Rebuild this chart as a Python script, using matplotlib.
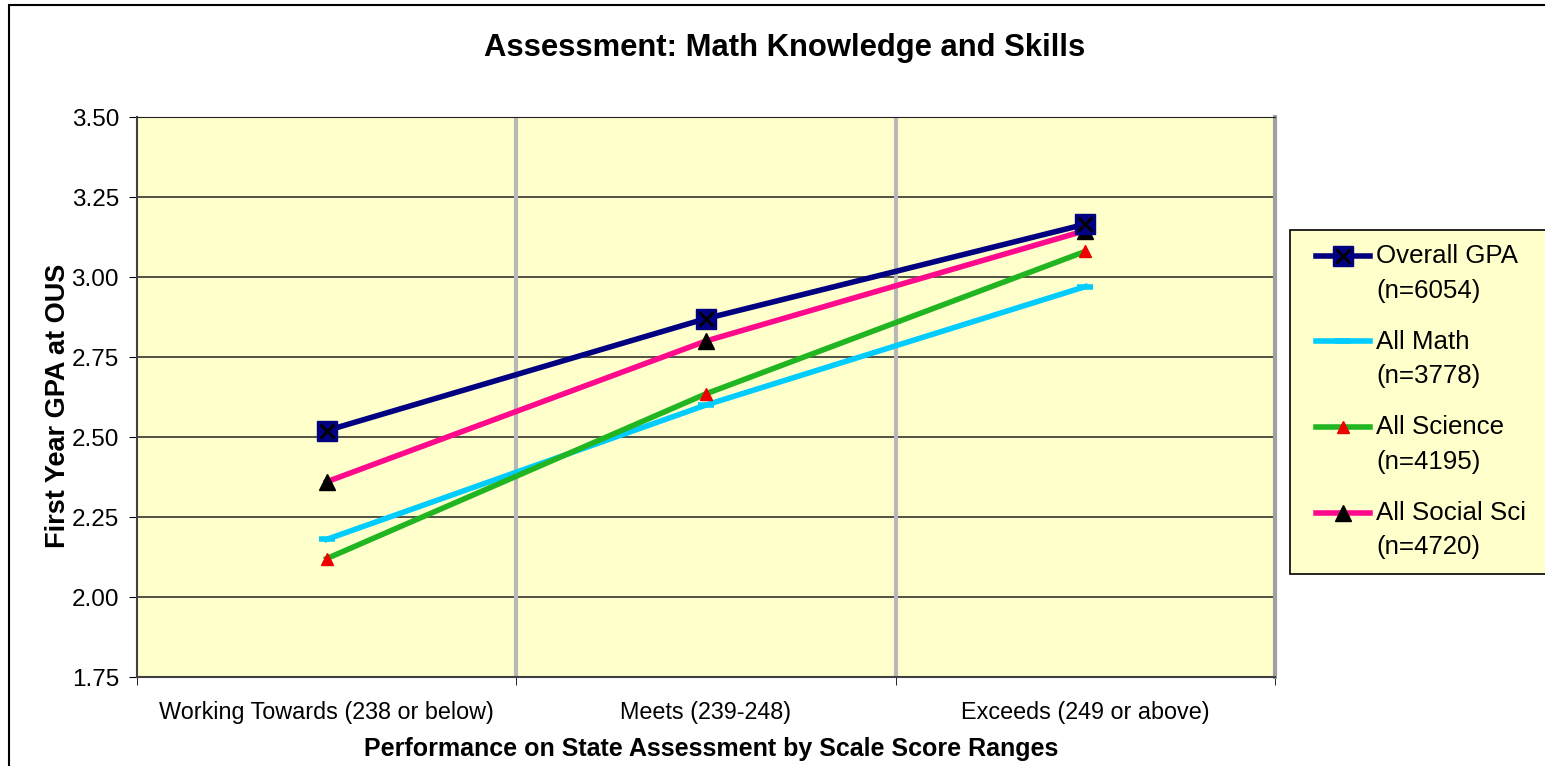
import matplotlib.pyplot as plt
from matplotlib.patches import Rectangle
from matplotlib.lines import Line2D
from matplotlib.legend_handler import HandlerLine2D, HandlerTuple
import numpy as np

categories = ['Working Towards (238 or below)', 'Meets (239-248)', 'Exceeds (249 or above)']
overall_gpa = [2.52, 2.87, 3.165]
all_math = [2.18, 2.60, 2.97]
all_science = [2.12, 2.635, 3.08]
all_social = [2.36, 2.80, 3.145]
series_labels = ['Overall GPA\n(n=6054)', 'All Math\n(n=3778)', 'All Science\n(n=4195)', 'All Social Sci\n(n=4720)']

plt.rcParams['font.family'] = ['Liberation Sans', 'DejaVu Sans']


class TopLineHandler(HandlerLine2D):
    # legend sample sits next to the first line of a two-line label, with some room on its left
    def create_artists(self, legend, orig_handle, xdescent, ydescent, width, height, fontsize, trans):
        left = 8.5
        up = 26.0
        return super().create_artists(legend, orig_handle, xdescent - left, ydescent - up,
                                      width - left, height, fontsize, trans)


W, H = 1545, 766
fig = plt.figure(figsize=(W / 100, H / 100), dpi=100)
ax = fig.add_axes([137 / W, 1 - 677 / H, 1138 / W, 560 / H])
ax.set_facecolor('#FFFFCC')

# outer chart border (right and bottom edges fall outside the picture)
fig.patches.append(Rectangle((9 / W, -0.1), 1.2, 1.1 - 5 / H, transform=fig.transFigure,
                             fill=False, edgecolor='black', linewidth=1.5))

x = np.arange(len(categories))
l_gpa, = ax.plot(x, overall_gpa, color='#000080', linewidth=4, marker='s', markersize=14,
                 markerfacecolor='#000080', markeredgecolor='#000080', zorder=5)
l_gpa_x, = ax.plot(x, overall_gpa, linestyle='none', marker='x', markersize=10, markeredgewidth=2,
                   color='black', zorder=6)
l_math, = ax.plot(x, all_math, color='#00CCFF', linewidth=4, marker='_', markersize=12,
                  markeredgewidth=4, zorder=3)
l_sci, = ax.plot(x, all_science, color='#22B522', linewidth=4, marker='^', markersize=9,
                 markerfacecolor='#EE0000', markeredgecolor='#EE0000', zorder=4)
l_soc, = ax.plot(x, all_social, color='#FF0A8C', linewidth=4, marker='^', markersize=11,
                 markerfacecolor='black', markeredgecolor='black', zorder=4)

ax.set_xlim(-0.5, 2.5)
ax.set_ylim(1.75, 3.5)
yt = np.arange(1.75, 3.51, 0.25)
ax.set_yticks(yt)
ax.set_yticklabels([f'{v:.2f}' for v in yt])
ax.set_xticks(x)
ax.set_xticklabels(categories)
ax.set_xticks([-0.5, 0.5, 1.5, 2.5], minor=True)
ax.tick_params(axis='x', which='major', length=0, labelsize=16.8, pad=17)
ax.tick_params(axis='x', which='minor', length=6, direction='out')
ax.tick_params(axis='y', length=6, direction='out', labelsize=17.5, pad=7)

for v in np.arange(2.0, 3.51, 0.25):
    ax.axhline(v, color='#202020', linewidth=1.1, zorder=1)
for v in [0.5, 1.5]:
    ax.axvline(v, color='#B8B8B8', linewidth=3, zorder=1)

ax.spines['left'].set_color('#404040')
ax.spines['bottom'].set_color('#404040')
ax.spines['top'].set_color('#202020')
ax.spines['right'].set_color('#A0A0A0')
ax.spines['right'].set_linewidth(3)
ax.spines['left'].set_linewidth(1.5)
ax.spines['bottom'].set_linewidth(1.5)

fig.text(785 / W, 1 - 48 / H, 'Assessment: Math Knowledge and Skills', fontsize=22.3, fontweight='bold',
         ha='center', va='center')
ax.set_xlabel('Performance on State Assessment by Scale Score Ranges', fontsize=18, fontweight='bold',
              va='center')
ax.xaxis.set_label_coords((711 - 137) / 1138, (677 - 749) / 560)
ax.set_ylabel('First Year GPA at OUS', fontsize=19.5, fontweight='bold', va='center')
ax.yaxis.set_label_coords((58 - 137) / 1138, (677 - 406) / 560)

# legend box: left at x=1290, top at y=230, runs past the right edge
leg = ax.legend([(l_gpa, l_gpa_x), l_math, l_sci, l_soc], series_labels,
                handler_map={Line2D: TopLineHandler(), tuple: HandlerTuple(ndivide=1)},
                loc='upper left',
                bbox_to_anchor=((1290 - 137) / 1138, (677 - 230) / 560 - 0.01, 320 / 1138, 0.01),
                mode='expand', fontsize=18.6, frameon=True, fancybox=False, edgecolor='black',
                facecolor='#FFFFCC', framealpha=1, handlelength=2.55, labelspacing=1.05,
                borderpad=0.55, handletextpad=0.23, borderaxespad=0)
leg.get_frame().set_linewidth(1.2)
for t in leg.get_texts():
    t.set_linespacing(1.55)

fig.savefig('out.png', dpi=100)
